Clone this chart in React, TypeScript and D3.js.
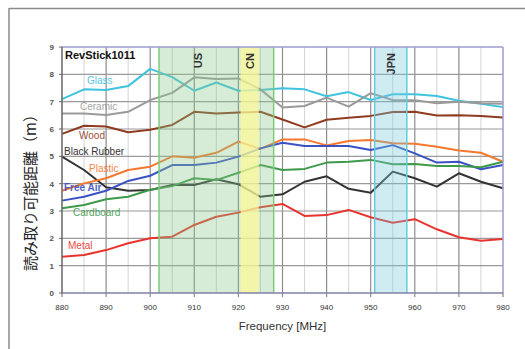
import React from "react";
import * as d3 from "d3";

const width = 525;
const height = 349;
const margin = { top: 47, right: 22, bottom: 56, left: 62 };

const freqs = [880, 885, 890, 895, 900, 905, 910, 915, 920, 925, 930, 935, 940, 945, 950, 955, 960, 965, 970, 975, 980];

const glass = [7.09, 7.45, 7.43, 7.57, 8.2, 7.9, 7.4, 7.7, 7.4, 7.43, 7.49, 7.45, 7.2, 7.35, 7.06, 7.27, 7.27, 7.21, 7.03, 6.92, 6.8];
const ceramic = [6.57, 6.57, 6.51, 6.63, 7.06, 7.32, 7.89, 7.83, 7.85, 7.45, 6.79, 6.84, 7.15, 6.82, 7.31, 7.06, 7.05, 6.94, 7.0, 6.94, 6.92];
const wood = [5.82, 6.12, 6.09, 5.88, 5.97, 6.15, 6.63, 6.57, 6.6, 6.63, 6.35, 6.06, 6.34, 6.41, 6.48, 6.62, 6.63, 6.49, 6.5, 6.48, 6.42];
const plastic = [3.74, 4.01, 4.2, 4.5, 4.62, 5.0, 4.95, 5.13, 5.54, 5.27, 5.62, 5.62, 5.4, 5.56, 5.6, 5.48, 5.46, 5.35, 5.21, 5.13, 4.8];
const freeAir = [3.38, 3.52, 3.74, 4.1, 4.29, 4.68, 4.68, 4.77, 4.99, 5.29, 5.5, 5.38, 5.38, 5.38, 5.23, 5.41, 5.11, 4.77, 4.8, 4.53, 4.68];
const cardboard = [3.1, 3.22, 3.43, 3.52, 3.78, 3.91, 4.2, 4.13, 4.4, 4.68, 4.5, 4.54, 4.77, 4.8, 4.87, 4.71, 4.72, 4.65, 4.65, 4.6, 4.8];
const blackRubber = [4.99, 4.5, 3.87, 3.74, 3.77, 3.95, 3.95, 4.16, 3.98, 3.52, 3.61, 4.07, 4.27, 3.81, 3.67, 4.44, 4.2, 3.89, 4.38, 4.07, 3.83];
const metal = [1.33, 1.39, 1.57, 1.82, 2.0, 2.06, 2.49, 2.79, 2.94, 3.14, 3.26, 2.82, 2.85, 3.04, 2.77, 2.57, 2.7, 2.33, 2.04, 1.91, 1.98];

const series = [
  { name: "Glass", values: glass, color: "#3fc3de", lx: 87, ly: 84 },
  { name: "Ceramic", values: ceramic, color: "#9a9a9a", lx: 80, ly: 110 },
  { name: "Wood", values: wood, color: "#8e3b1f", lx: 79, ly: 139 },
  { name: "Black Rubber", values: blackRubber, color: "#333333", lx: 64, ly: 155 },
  { name: "Plastic", values: plastic, color: "#f4782e", lx: 89, ly: 172 },
  { name: "Free Air", values: freeAir, color: "#3a52c4", lx: 64, ly: 191 },
  { name: "Cardboard", values: cardboard, color: "#3e9a4a", lx: 73, ly: 216 },
  { name: "Metal", values: metal, color: "#e8342e", lx: 68, ly: 249 },
];

const bands = [
  { label: "US", from: 902, to: 928, fill: "rgba(140,200,140,0.35)", stroke: "#7ccc7c" },
  { label: "CN", from: 920.5, to: 924.6, fill: "rgba(255,250,150,0.7)", stroke: "none" },
  { label: "JPN", from: 950.9, to: 958.2, fill: "rgba(120,200,220,0.35)", stroke: "#66ccdd" },
];
const bandLabelFreq = { US: 910.8, CN: 922.6, JPN: 954.7 };

const xTicks = d3.range(880, 981, 10);
const yTicks = d3.range(0, 10, 1);

export default function App() {
  const x = d3.scaleLinear().domain([880, 980]).range([margin.left, width - margin.right]);
  const y = d3.scaleLinear().domain([0, 9]).range([height - margin.bottom, margin.top]);
  const line = d3.line<number>().x((d, i) => x(freqs[i])).y((d) => y(d));

  const x0 = x(880);
  const x1 = x(980);
  const y0 = y(0);
  const y1 = y(9);
  const font = "Arial, 'Liberation Sans', sans-serif";

  return (
    <svg width={width} height={height} style={{ position: "absolute", left: 0, top: 0, background: "#fff" }}>
      {/* outer frame */}
      <line x1={9} x2={width} y1={8.5} y2={8.5} stroke="#8a8a8a" strokeWidth={1.5} />
      <line x1={9} x2={9} y1={8} y2={height} stroke="#8a8a8a" strokeWidth={1.5} />

      {/* grid */}
      {d3.range(885, 980, 10).map((f) => (
        <line key={"m" + f} x1={x(f)} x2={x(f)} y1={y1} y2={y0} stroke="#d4d4d4" strokeWidth={1} />
      ))}
      {xTicks.slice(1, -1).map((f) => (
        <line key={"v" + f} x1={x(f)} x2={x(f)} y1={y1} y2={y0 + 4} stroke="#8c8c8c" strokeWidth={1.2} />
      ))}
      {yTicks.slice(1, -1).map((v) => (
        <line key={"h" + v} x1={x0} x2={x1} y1={y(v)} y2={y(v)} stroke="#9a9a9a" strokeWidth={1.1} />
      ))}

      {/* lines */}
      {series.map((s) => (
        <path key={s.name} d={line(s.values) || ""} fill="none" stroke={s.color} strokeWidth={2} strokeLinejoin="round" />
      ))}

      {/* frequency bands */}
      {bands.map((b) => (
        <g key={b.label}>
          <rect x={x(b.from)} y={y1} width={x(b.to) - x(b.from)} height={y0 - y1} fill={b.fill} />
          {b.stroke !== "none" && (
            <>
              <line x1={x(b.from)} x2={x(b.from)} y1={y1} y2={y0} stroke={b.stroke} strokeWidth={1.5} />
              <line x1={x(b.to)} x2={x(b.to)} y1={y1} y2={y0} stroke={b.stroke} strokeWidth={1.5} />
            </>
          )}
          <text
            transform={`translate(${x(bandLabelFreq[b.label]) + 4},${y1 + 6}) rotate(-90)`}
            textAnchor="end"
            fontFamily={font}
            fontSize={11}
            fontWeight="bold"
            fill="#333"
          >
            {b.label}
          </text>
        </g>
      ))}

      {/* borders */}
      <line x1={x0} x2={x1} y1={y1} y2={y1} stroke="#9c9cd0" strokeWidth={1.5} />
      <line x1={x1} x2={x1} y1={y1} y2={y0} stroke="#9c9cd0" strokeWidth={1.5} />
      <line x1={x0} x2={x1} y1={y0} y2={y0} stroke="#8080a8" strokeWidth={1.5} />
      <line x1={x0} x2={x0} y1={y1} y2={y0} stroke="#666" strokeWidth={1.5} />
      {yTicks.map((v) => (
        <line key={"yt" + v} x1={x0 - 3} x2={x0} y1={y(v)} y2={y(v)} stroke="#666" strokeWidth={1} />
      ))}
      {[880, 980].map((f) => (
        <line key={"xe" + f} x1={x(f)} x2={x(f)} y1={y0} y2={y0 + 4} stroke="#666" strokeWidth={1} />
      ))}

      {/* tick labels */}
      {yTicks.map((v) => (
        <text key={"yl" + v} x={x0 - 8} y={y(v) + 3} textAnchor="end" fontFamily={font} fontSize={8} fontWeight="bold" fill="#555">
          {v}
        </text>
      ))}
      {xTicks.map((f) => (
        <text key={"xl" + f} x={x(f)} y={y0 + 17} textAnchor="middle" fontFamily={font} fontSize={8} fill="#333">
          {f}
        </text>
      ))}

      {/* series labels */}
      {series.map((s) => (
        <text
          key={"lab" + s.name}
          x={s.lx}
          y={s.ly}
          fontFamily={font}
          fontSize={10}
          fontWeight={s.name === "Free Air" ? "bold" : "normal"}
          fill={s.color}
          opacity={s.name === "Black Rubber" ? 1 : 0.9}
        >
          {s.name}
        </text>
      ))}

      {/* title */}
      <text x={65} y={59} fontFamily={font} fontSize={11} fontWeight="bold" fill="#111">
        RevStick1011
      </text>

      {/* axis titles */}
      <text x={(x0 + x1) / 2} y={330} textAnchor="middle" fontFamily={font} fontSize={11.5} fill="#333">
        Frequency [MHz]
      </text>
      <text
        transform={`translate(36,189) rotate(-90)`}
        textAnchor="middle"
        fontFamily="'Noto Sans CJK JP', sans-serif"
        fontSize={15}
        fill="#222"
      >
        読み取り可能距離（m）
      </text>
    </svg>
  );
}
